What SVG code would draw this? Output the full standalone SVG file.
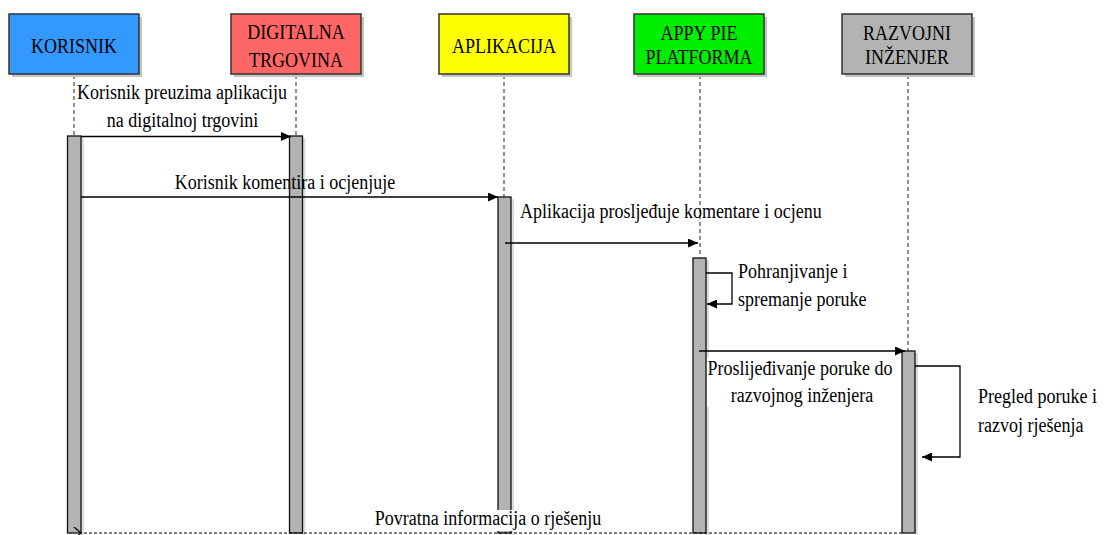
<svg xmlns="http://www.w3.org/2000/svg" width="1106" height="535" viewBox="0 0 1106 535">
<style>
.t{font-family:'Liberation Serif','Times New Roman','DejaVu Serif',serif;font-size:18px;fill:#000}
.m{text-anchor:middle}
.box{stroke:#333;stroke-width:1.5}
.sh{fill:#c4c4c4}
.bar{fill:#b3b3b3;stroke:#111;stroke-width:1.3}
.bsh{fill:#dcdcdc}
.life{stroke:#222;stroke-width:1;stroke-dasharray:4 3;fill:none}
.msg{stroke:#000;stroke-width:1.3;fill:none}
.ret{stroke:#000;stroke-width:1.2;stroke-dasharray:3 2;fill:none}
</style>
<defs>
<marker id="ah" markerUnits="userSpaceOnUse" markerWidth="11" markerHeight="9" refX="10" refY="4.5" orient="auto">
<path d="M0,0 L10,4.5 L0,9 Z" fill="#000"/>
</marker>
<marker id="oh" markerUnits="userSpaceOnUse" markerWidth="11" markerHeight="12" refX="1" refY="6" orient="auto">
<path d="M8,0 L1,6 L8,12" fill="none" stroke="#000" stroke-width="1.2"/>
</marker>
</defs>
<rect width="1106" height="535" fill="#fff"/>

<g id="lifelines">
<line class="life" x1="74" y1="75" x2="74" y2="136"/>
<line class="life" x1="296" y1="75" x2="296" y2="136"/>
<line class="life" x1="504" y1="75" x2="504" y2="197"/>
<line class="life" x1="700" y1="75" x2="700" y2="258"/>
<line class="life" x1="908" y1="75" x2="908" y2="351"/>
</g>

<g id="korisnik">
<rect class="sh" x="12" y="17" width="130" height="60"/>
<rect class="box" x="9" y="14" width="130" height="60" fill="#3399ff"/>
<text class="t m" font-family="Liberation Serif, serif" transform="translate(74 53) scale(1 1.2)">KORISNIK</text>
<rect class="bsh" x="81" y="138" width="3" height="397"/>
<rect class="bar" x="67.5" y="136" width="13.5" height="397"/>
</g>

<g id="digitalna">
<rect class="sh" x="234" y="17" width="130" height="60"/>
<rect class="box" x="231" y="14" width="130" height="60" fill="#ff6666"/>
<text class="t m" transform="translate(296 39) scale(1 1.2)">DIGITALNA</text>
<text class="t m" transform="translate(296 67) scale(1 1.2)">TRGOVINA</text>
<rect class="bsh" x="302.5" y="138" width="3" height="397"/>
<rect class="bar" x="289.5" y="136" width="13" height="397"/>
</g>

<g id="aplikacija">
<rect class="sh" x="442" y="17" width="130" height="60"/>
<rect class="box" x="439" y="14" width="130" height="60" fill="#ffff00"/>
<text class="t m" transform="translate(504 53) scale(1 1.2)">APLIKACIJA</text>
<rect class="bsh" x="511" y="199" width="3" height="336"/>
<rect class="bar" x="498" y="197" width="13" height="336"/>
</g>

<g id="appy">
<rect class="sh" x="637" y="17" width="130" height="60"/>
<rect class="box" x="634" y="14" width="130" height="60" fill="#00ee00"/>
<text class="t m" transform="translate(699 40) scale(1 1.2)">APPY PIE</text>
<text class="t m" transform="translate(699 64) scale(1 1.2)">PLATFORMA</text>
<rect class="bsh" x="706" y="260" width="3" height="275"/>
<rect class="bar" x="693" y="258" width="13" height="275"/>
</g>

<g id="razvojni">
<rect class="sh" x="845" y="17" width="130" height="60"/>
<rect class="box" x="842" y="14" width="130" height="60" fill="#b3b3b3"/>
<text class="t m" transform="translate(907 40) scale(1 1.2)">RAZVOJNI</text>
<text class="t m" transform="translate(907 64) scale(1 1.2)">INŽENJER</text>
<rect class="bsh" x="915" y="353" width="3" height="182"/>
<rect class="bar" x="902" y="351" width="13" height="182"/>
</g>

<g id="connectors">
<line class="msg" x1="81" y1="136.5" x2="291" y2="136.5" marker-end="url(#ah)"/>
<line class="msg" x1="81" y1="197" x2="498" y2="197" marker-end="url(#ah)"/>
<line class="msg" x1="505" y1="243" x2="698" y2="243" marker-end="url(#ah)"/>
<polyline class="msg" points="706,273 732,273 732,304 707,304" marker-end="url(#ah)"/>
<line class="msg" x1="699" y1="351" x2="905" y2="351" marker-end="url(#ah)"/>
<polyline class="msg" points="915,366 960,366 960,457 922,457" marker-end="url(#ah)"/>
<line class="ret" x1="902" y1="533" x2="81" y2="533" marker-end="url(#oh)"/>
</g>

<g id="labels">
<text class="t m" transform="translate(182 99) scale(1 1.2)">Korisnik preuzima aplikaciju</text>
<text class="t m" transform="translate(182.5 127) scale(1 1.2)">na digitalnoj trgovini</text>
<text class="t m" transform="translate(285 189) scale(1 1.2)">Korisnik komentira i ocjenjuje</text>
<text class="t" transform="translate(520 218) scale(1 1.2)">Aplikacija prosljeđuje komentare i ocjenu</text>
<text class="t" transform="translate(738 278) scale(1 1.2)">Pohranjivanje i</text>
<text class="t" transform="translate(738 306) scale(1 1.2)">spremanje poruke</text>
<rect x="707" y="357" width="190" height="50" fill="#fff"/>
<text class="t m" transform="translate(800 375) scale(1 1.2)">Proslijeđivanje poruke do</text>
<text class="t m" transform="translate(802 402) scale(1 1.2)">razvojnog inženjera</text>
<text class="t" transform="translate(978 403) scale(1 1.2)">Pregled poruke i</text>
<text class="t" transform="translate(978 432) scale(1 1.2)">razvoj rješenja</text>
<rect x="372" y="510" width="234" height="21" fill="#fff"/>
<text class="t m" transform="translate(488 525) scale(1 1.2)">Povratna informacija o rješenju</text>
</g>
</svg>
